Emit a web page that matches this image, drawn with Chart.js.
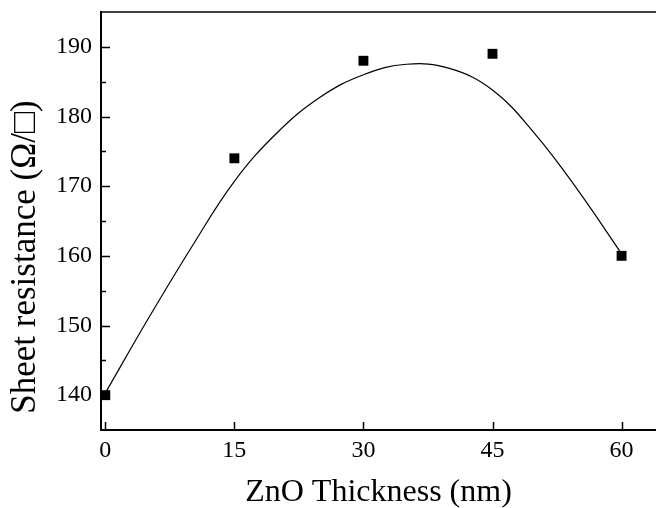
<!DOCTYPE html>
<html>
<head>
<meta charset="utf-8">
<script src="https://cdn.jsdelivr.net/npm/chart.js@4/dist/chart.umd.min.js"></script>
<style>
  html, body { margin: 0; padding: 0; background: #fff; }
  #chart { display: block; }
</style>
</head>
<body>
<canvas id="chart" width="656" height="508"></canvas>
<script>
// measured points
const thickness = [0, 15, 30, 45, 60];
const resistance = [140, 174, 188, 189, 160];

// smooth curve
const fitX = [0, 5, 10, 15, 20, 25, 30, 35, 40, 45, 50, 55, 60];
const fitY = [140.3, 151, 161.2, 170.7, 177.7, 182.8, 186, 187.5, 186.9, 183.8, 177.4, 169.3, 160.3];

// axis ticks
const xTicks = [0, 15, 30, 45, 60];
const yTicks = [140, 150, 160, 170, 180, 190];
const yMinor = [145, 155, 165, 175, 185];

const yTitle = 'Sheet resistance (Ω/□)';
const serif = 'Liberation Serif, Times New Roman, serif';

// ticks point inward, top frame line, and the y title (sits lower than centre)
const frame = {
    id: 'frame',
    afterDraw(chart) {
        const ctx = chart.ctx;
        const area = chart.chartArea;
        const x = chart.scales.x;
        const y = chart.scales.y;
        ctx.save();
        ctx.strokeStyle = '#000';
        ctx.lineWidth = 1.6;
        ctx.beginPath();
        ctx.moveTo(area.left, area.top);
        ctx.lineTo(area.right, area.top);
        ctx.stroke();

        ctx.lineWidth = 1.5;
        ctx.beginPath();
        xTicks.forEach(v => {
            const px = Math.round(x.getPixelForValue(v)) + 0.5;
            ctx.moveTo(px, area.bottom);
            ctx.lineTo(px, area.bottom - 8);
        });
        yTicks.forEach(v => {
            const py = Math.round(y.getPixelForValue(v)) + 0.5;
            ctx.moveTo(area.left, py);
            ctx.lineTo(area.left + 9, py);
        });
        yMinor.forEach(v => {
            const py = Math.round(y.getPixelForValue(v)) + 0.5;
            ctx.moveTo(area.left, py);
            ctx.lineTo(area.left + 5, py);
        });
        ctx.stroke();

        ctx.translate(26, 257);
        ctx.rotate(-Math.PI / 2);
        ctx.fillStyle = '#000';
        ctx.font = '35px ' + serif;
        ctx.textAlign = 'center';
        ctx.textBaseline = 'middle';
        ctx.fillText(yTitle, 0, 0);
        ctx.restore();
    }
};

new Chart(document.getElementById('chart'), {
    type: 'scatter',
    data: {
        datasets: [
            {
                data: thickness.map((t, i) => ({ x: t, y: resistance[i] })),
                pointStyle: 'rect',
                pointRadius: 7,
                backgroundColor: '#000',
                borderColor: '#000',
                borderWidth: 0
            },
            {
                data: fitX.map((t, i) => ({ x: t, y: fitY[i] })),
                showLine: true,
                pointRadius: 0,
                borderColor: '#000',
                borderWidth: 1.2,
                tension: 0.4
            }
        ]
    },
    options: {
        responsive: false,
        animation: false,
        layout: { autoPadding: false, padding: { top: 12, right: 0, left: 0, bottom: 0 } },
        plugins: {
            legend: { display: false },
            tooltip: { enabled: false }
        },
        scales: {
            x: {
                type: 'linear',
                min: -0.5,
                max: 64,
                afterBuildTicks: scale => { scale.ticks = xTicks.map(v => ({ value: v })); },
                afterFit: scale => { scale.height = 78; scale.paddingLeft = 0; scale.paddingRight = 0; },
                grid: { display: false, drawTicks: false },
                border: { display: true, color: '#000', width: 2 },
                ticks: {
                    padding: 6,
                    color: '#000',
                    font: { family: serif, size: 24 },
                    maxRotation: 0
                },
                title: {
                    display: true,
                    text: 'ZnO Thickness (nm)',
                    color: '#000',
                    font: { family: serif, size: 32 },
                    padding: { top: 2, bottom: -4 }
                }
            },
            y: {
                min: 135,
                max: 195,
                afterBuildTicks: scale => { scale.ticks = yTicks.map(v => ({ value: v })); },
                afterFit: scale => { scale.width = 101; scale.paddingTop = 0; scale.paddingBottom = 0; },
                grid: { display: false, drawTicks: false },
                border: { display: true, color: '#000', width: 2 },
                ticks: {
                    padding: 9,
                    color: '#000',
                    font: { family: serif, size: 24 }
                },
                title: { display: false }
            }
        }
    },
    plugins: [frame]
});
</script>
</body>
</html>
